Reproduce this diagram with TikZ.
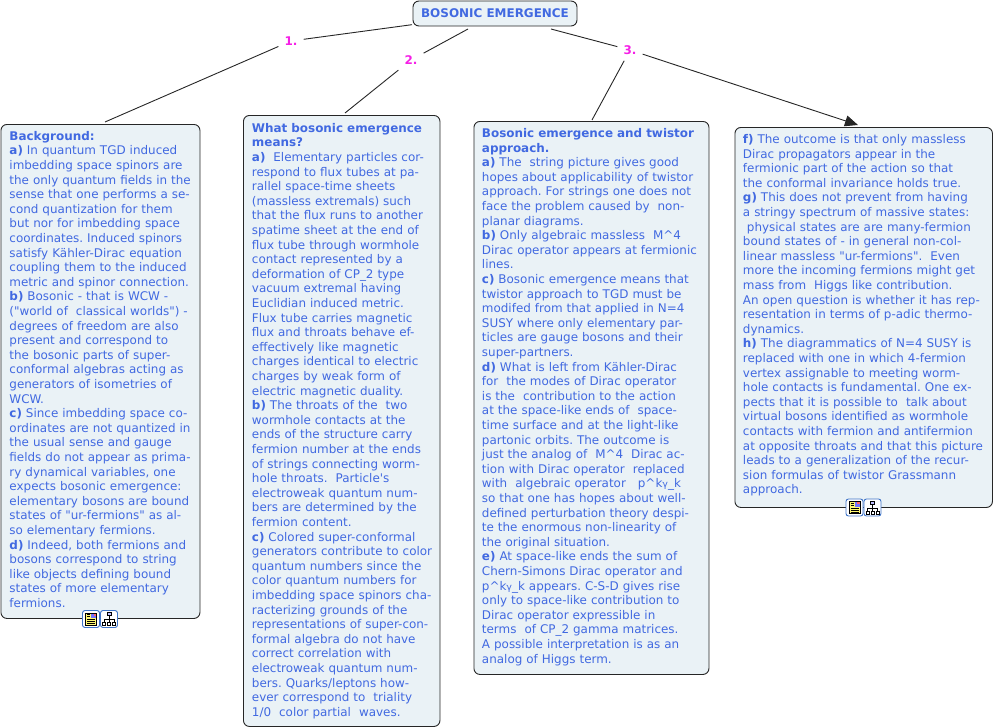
\documentclass[tikz,border=0pt]{standalone}
\usepackage{fontspec}
\newfontfamily\vfam{DejaVu Sans}
\usetikzlibrary{arrows.meta}
\definecolor{txtblue}{HTML}{4169E1}
\definecolor{boxfill}{HTML}{EAF2F6}
\definecolor{lblmag}{HTML}{F51FE6}
\definecolor{iconblue}{HTML}{3F74C8}
\newcommand{\mainf}{\vfam\frenchspacing\fontsize{11.95}{14.6}\selectfont}
\newcommand{\bt}[1]{\textbf{#1}}
\newcommand{\gam}{{\fontsize{9.5}{10}\selectfont γ}}
\tikzset{
 conceptbox/.style={draw=black!85,line width=0.9pt,fill=boxfill,rounded corners=6pt,anchor=north west,
   text=txtblue,font=\mainf,align=left,inner xsep=1pt,inner ysep=0pt},
 rootbox/.style={draw=black!85,line width=0.9pt,fill=boxfill,rounded corners=6pt,text=txtblue,
   font=\mainf\bfseries,minimum width=164pt,minimum height=25pt,inner sep=0pt,outer sep=1pt},
 linklabel/.style={text=lblmag,font=\mainf\bfseries,inner sep=6pt},
 link/.style={draw=black!85,line width=0.9pt},
 iconframe/.style={draw=iconblue,line width=0.9pt,fill=white,rounded corners=2.5pt}
}
\newcommand{\iconpair}[2]{%
 \begin{scope}[shift={(#1,#2)}]
  \draw[iconframe] (0,0) rectangle (17,17);
  \fill[yellow!55!white,draw=black,line width=0.6pt] (3,2.5) rectangle (14,14.5);
  \fill[blue!55!white] (8.5,3) rectangle (13.5,7.5);
  \fill[red!60!white] (11,3) rectangle (13.5,5);
  \foreach \yy in {9,11,13}{\draw[black,line width=0.7pt] (4.5,\yy) -- (12.5,\yy);}
  \draw[black,line width=0.7pt] (4.5,4) -- (7.5,4) (4.5,6) -- (7.5,6);
  \draw[iconframe] (18,0) rectangle (35,17);
  \draw[black,line width=0.7pt] (26.5,5) -- (26.5,9) (21.5,12) -- (21.5,9) -- (31.5,9) -- (31.5,12) (26.5,9) -- (26.5,12);
  \draw[black,line width=0.7pt,fill=blue!25!white] (24.5,2) rectangle (28.5,5);
  \draw[black,line width=0.7pt,fill=white] (20,12) rectangle (23,15);
  \draw[black,line width=0.7pt,fill=white] (25,12) rectangle (28,15);
  \draw[black,line width=0.7pt,fill=white] (30,12) rectangle (33,15);
 \end{scope}}
\begin{document}
\begin{tikzpicture}[x=1pt,y=-1pt]
\useasboundingbox (0,0) rectangle (994,728);
\node[rootbox] (root) at (495,13.5) {BOSONIC EMERGENCE};
\node[conceptbox,minimum width=199pt,minimum height=494pt,text width=197pt] (b1) at (0.5,124) {\leftskip=7.5pt\relax
\bt{Background:}\\
\bt{a)} In quantum TGD induced\\
imbedding space spinors are\\
the only quantum fields in the\\
sense that one performs a se-\\
cond quantization for them\\
but nor for imbedding space\\
coordinates. Induced spinors\\
satisfy Kähler-Dirac equation\\
coupling them to the induced\\
metric and spinor connection.\\
\bt{b)} Bosonic - that is WCW -\\
("world of\ \ classical worlds") -\\
degrees of freedom are also\\
present and correspond to\\
the bosonic parts of super-\\
conformal algebras acting as\\
generators of isometries of\\
WCW.\\
\bt{c)} Since imbedding space co-\\
ordinates are not quantized in\\
the usual sense and gauge\\
fields do not appear as prima-\\
ry dynamical variables, one\\
expects bosonic emergence:\\
elementary bosons are bound\\
states of "ur-fermions" as al-\\
so elementary fermions.\\
\bt{d)} Indeed, both fermions and\\
bosons correspond to string\\
like objects defining bound\\
states of more elementary\\
fermions.\par\vspace{4pt}};
\node[conceptbox,minimum width=196.5pt,minimum height=611pt,text width=194.5pt] (b2) at (243,115) {\leftskip=7.5pt\relax
\bt{What bosonic emergence}\\
\bt{means?}\\
\bt{a)} \ Elementary particles cor-\\
respond to flux tubes at pa-\\
rallel space-time sheets\\
(massless extremals) such\\
that the flux runs to another\\
spatime sheet at the end of\\
flux tube through wormhole\\
contact represented by a\\
deformation of CP\_2 type\\
vacuum extremal having\\
Euclidian induced metric.\\
Flux tube carries magnetic\\
flux and throats behave ef-\\
effectively like magnetic\\
charges identical to electric\\
charges by weak form of\\
electric magnetic duality.\\
\bt{b)} The throats of the\ \ two\\
wormhole contacts at the\\
ends of the structure carry\\
fermion number at the ends\\
of strings connecting worm-\\
hole throats.\ \ Particle's\\
electroweak quantum num-\\
bers are determined by the\\
fermion content.\\
\bt{c)} Colored super-conformal\\
generators contribute to color\\
quantum numbers since the\\
color quantum numbers for\\
imbedding space spinors cha-\\
racterizing grounds of the\\
representations of super-con-\\
formal algebra do not have\\
correct correlation with\\
electroweak quantum num-\\
bers. Quarks/leptons how-\\
ever correspond to\ \ triality\\
1/0\ \ color partial\ \ waves.\par};
\node[conceptbox,minimum width=235pt,minimum height=553pt,text width=233pt] (b3) at (473.5,121) {\leftskip=7pt\relax
\bt{Bosonic emergence and twistor}\\
\bt{approach.}\\
\bt{a)} The\ \ string picture gives good\\
hopes about applicability of twistor\\
approach. For strings one does not\\
face the problem caused by\ \ non-\\
planar diagrams.\\
\bt{b)} Only algebraic massless\ \ M\textasciicircum 4\\
Dirac operator appears at fermionic\\
lines.\\
\bt{c)} Bosonic emergence means that\\
twistor approach to TGD must be\\
modifed from that applied in N=4\\
SUSY where only elementary par-\\
ticles are gauge bosons and their\\
super-partners.\\
\bt{d)} What is left from Kähler-Dirac\\
for\ \ the modes of Dirac operator\\
is the\ \ contribution to the action\\
at the space-like ends of\ \ space-\\
time surface and at the light-like\\
partonic orbits. The outcome is\\
just the analog of\ \ M\textasciicircum 4\ \ Dirac ac-\\
tion with Dirac operator\ \ replaced\\
with\ \ algebraic operator\ \ \ p\textasciicircum k\gam\_k\\
so that one has hopes about well-\\
defined perturbation theory despi-\\
te the enormous non-linearity of\\
the original situation.\\
\bt{e)} At space-like ends the sum of\\
Chern-Simons Dirac operator and\\
p\textasciicircum k\gam\_k appears. C-S-D gives rise\\
only to space-like contribution to\\
Dirac operator expressible in\\
terms\ \ of CP\_2 gamma matrices.\\
A possible interpretation is as an\\
analog of Higgs term.\par\vspace{2pt}};
\node[conceptbox,minimum width=257.5pt,minimum height=380pt,text width=255.5pt] (b4) at (734.5,127) {\leftskip=7pt\relax
\bt{f)} The outcome is that only massless\\
Dirac propagators appear in the\\
fermionic part of the action so that\\
the conformal invariance holds true.\\
\bt{g)} This does not prevent from having\\
a stringy spectrum of massive states:\\
\ physical states are are many-fermion\\
bound states of - in general non-col-\\
linear massless "ur-fermions".\ \ Even\\
more the incoming fermions might get\\
mass from\ \ Higgs like contribution.\\
An open question is whether it has rep-\\
resentation in terms of p-adic thermo-\\
dynamics.\\
\bt{h)} The diagrammatics of N=4 SUSY is\\
replaced with one in which 4-fermion\\
vertex assignable to meeting worm-\\
hole contacts is fundamental. One ex-\\
pects that it is possible to\ \ talk about\\
virtual bosons identified as wormhole\\
contacts with fermion and antifermion\\
at opposite throats and that this picture\\
leads to a generalization of the recur-\\
sion formulas of twistor Grassmann\\
approach.\par\vspace{4pt}};
\node[linklabel] (l1) at (291,41) {1.};
\node[linklabel] (l2) at (411,60) {2.};
\node[linklabel] (l3) at (630,50) {3.};
\coordinate (r2) at (468,29);
\coordinate (r3) at (551,29);
\coordinate (e1) at (105,122);
\coordinate (e2) at (345,113);
\coordinate (e3) at (592,120);
\coordinate (e4) at (858,125);
\draw[link] (root) -- (l1);
\draw[link] (l1) -- (e1);
\draw[link] (r2) -- (l2);
\draw[link] (l2) -- (e2);
\draw[link] (r3) -- (l3);
\draw[link] (l3) -- (e3);
\draw[link,-{Triangle[length=13pt,width=11pt]}] (l3) -- (e4);
\iconpair{82.5}{610.5}
\iconpair{846}{499}
\end{tikzpicture}
\end{document}
